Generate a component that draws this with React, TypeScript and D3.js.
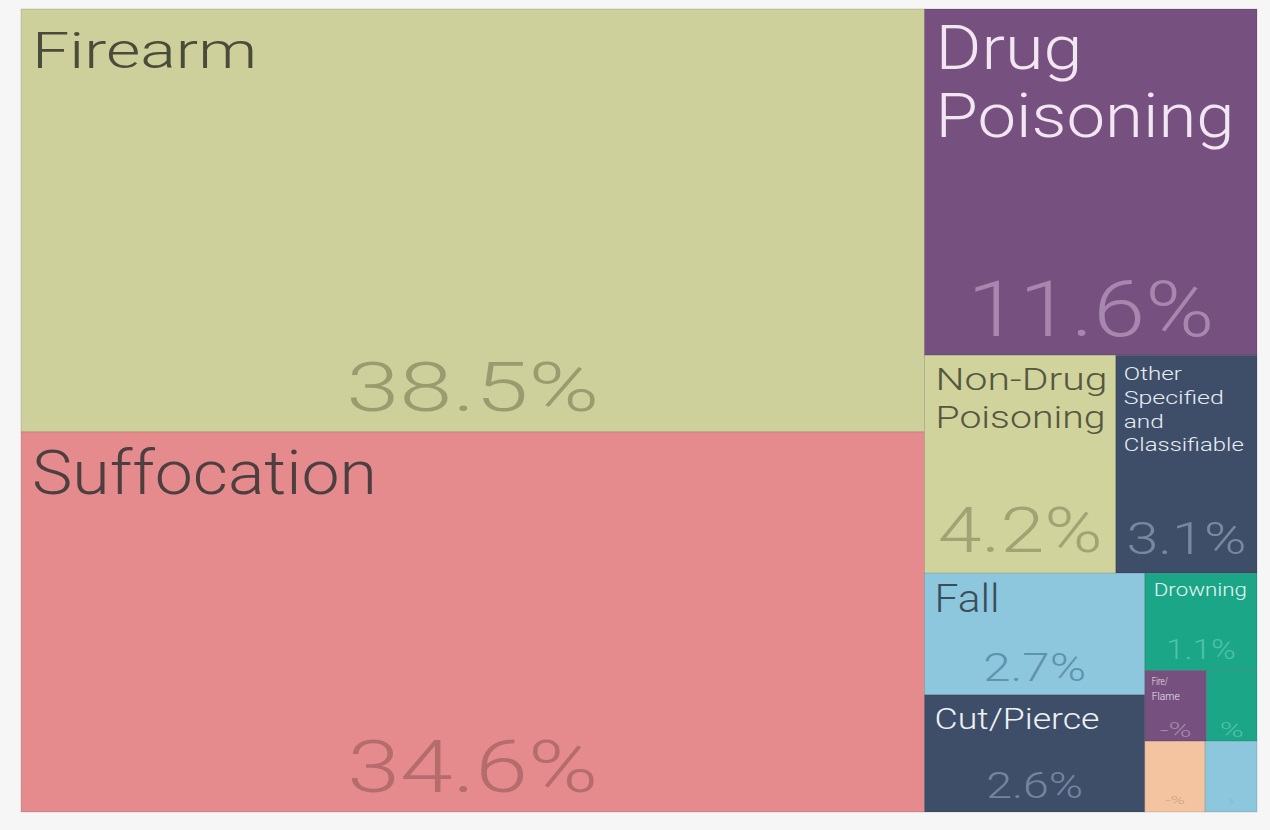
import React from "react";
import * as d3 from "d3";

// ---------- data ----------
const categories = [
  "Firearm",
  "Suffocation",
  "Drug Poisoning",
  "Non-Drug Poisoning",
  "Other Specified and Classifiable",
  "Fall",
  "Cut/Pierce",
  "Drowning",
  "Fire/Flame",
  "Other A",
  "Other B",
  "Other C",
];
const nameLines: string[][] = [
  ["Firearm"],
  ["Suffocation"],
  ["Drug", "Poisoning"],
  ["Non-Drug", "Poisoning"],
  ["Other", "Specified", "and", "Classifiable"],
  ["Fall"],
  ["Cut/Pierce"],
  ["Drowning"],
  ["Fire/", "Flame"],
  [],
  [],
  [],
];
const shares = [38.5, 34.6, 11.6, 4.2, 3.1, 2.7, 2.6, 1.1, 0.44, 0.36, 0.43, 0.37];
const shareLabels = ["38.5%", "34.6%", "11.6%", "4.2%", "3.1%", "2.7%", "2.6%", "1.1%", "-%", "%", "-%", "%"];
// nesting of the treemap ("h" = side by side, "v" = stacked), leaves are category indices
const nesting: any = ["h", ["v", 0, 1], ["v", 2, ["h", 3, 4], ["h", ["v", 5, 6], ["v", 7, ["h", 8, 9], ["h", 10, 11]]]]];

// ---------- styles ----------
const fills = ["#cdd09b", "#e58b8d", "#76507e", "#d0d39c", "#3e4e69", "#8dc7de", "#3e4e69", "#1ba688", "#76507e", "#1ba688", "#f4c4a0", "#8dc7de"];
const nameColors = ["#4a4b3b", "#4d3f3f", "#f3e6f3", "#55573f", "#e8ecf3", "#3c4d5a", "#eef1f5", "#e6f7f2", "#f0e6f0", "", "", ""];
const pctColors = ["#9a9c6f", "#b56c6d", "#a887ae", "#a0a374", "#7a889f", "#5f93ad", "#7384a0", "#4fc2a6", "#a588ab", "#4fc2a6", "#c9a085", "#78b4cc"];
const nameSize = [50, 62, 61, 31, 18, 38, 30, 19, 10, 0, 0, 0];
const nameWidths: number[][] = [[225], [345], [147, 299], [172, 170], [58, 100, 40, 120], [65], [165], [93], [16, 28], [], [], []];
const nameDx = [11, 11, 11, 11, 8, 10, 10, 9, 7, 0, 0, 0];
const nameDy = [59, 62, 60, 35, 25, 39, 34, 23, 15, 0, 0, 0];
const lineH = [0, 0, 68, 38, 23.7, 0, 0, 0, 15, 0, 0, 0];
const pctSize = [68, 72, 78, 63, 45, 38, 36, 28, 20, 20, 10, 8];
const pctWidths = [253, 251, 247, 165, 120, 103, 97, 70, 32, 24, 20, 6];
const pctBottom = [21, 20, 19, 21, 19, 14, 14, 11, 4, 4, 8, 8];

const FONT = "Roboto, 'Liberation Sans', Arial, sans-serif";
const W = 1270, H = 830;
const X0 = 21, Y0 = 9, CW = 1236, CH = 803;

function build(n: any): any {
  if (typeof n === "number") return { index: n, value: shares[n] };
  return { dir: n[0], children: n.slice(1).map(build) };
}

export default function App() {
  const root = d3.hierarchy(build(nesting)).sum((d: any) => (d.children ? 0 : d.value));
  const tile = (node: any, x0: number, y0: number, x1: number, y1: number) =>
    (node.data.dir === "h" ? d3.treemapDice : d3.treemapSlice)(node, x0, y0, x1, y1);
  d3.treemap().tile(tile as any).size([CW, CH])(root as any);
  const leaves = root.leaves() as any[];

  return (
    <div style={{ position: "absolute", left: 0, top: 0 }}>
      <svg width={W} height={H} style={{ display: "block" }}>
        <rect x={0} y={0} width={W} height={H} fill="#f5f6f5" />
        <g transform={`translate(${X0},${Y0})`} fontFamily={FONT} fontWeight={300}>
          {leaves.map((lf) => {
            const i = lf.data.index;
            const w = lf.x1 - lf.x0, h = lf.y1 - lf.y0;
            return (
              <g key={categories[i]}>
                <rect x={lf.x0} y={lf.y0} width={w} height={h} fill={fills[i]} stroke="rgba(0,0,0,0.13)" strokeWidth={1} />
                {nameLines[i].map((line, k) => (
                  <text
                    key={k}
                    x={lf.x0 + nameDx[i]}
                    y={lf.y0 + nameDy[i] + k * lineH[i]}
                    fontSize={nameSize[i]}
                    fill={nameColors[i]}
                    textLength={nameWidths[i][k]}
                    lengthAdjust="spacingAndGlyphs"
                  >
                    {line}
                  </text>
                ))}
                <text
                  x={(lf.x0 + lf.x1) / 2}
                  y={lf.y1 - pctBottom[i]}
                  textAnchor="middle"
                  fontSize={pctSize[i]}
                  fill={pctColors[i]}
                  textLength={pctWidths[i]}
                  lengthAdjust="spacingAndGlyphs"
                >
                  {shareLabels[i]}
                </text>
              </g>
            );
          })}
        </g>
      </svg>
    </div>
  );
}
